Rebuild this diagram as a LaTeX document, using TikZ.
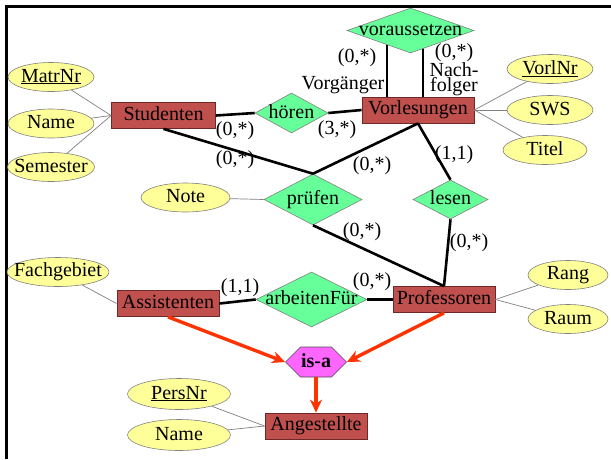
\documentclass[tikz,border=0pt]{standalone}
\usepackage{fontspec}
\setmainfont{Liberation Serif}
\usetikzlibrary{shapes.geometric,shapes.symbols,arrows.meta,backgrounds}
\definecolor{entityred}{RGB}{192,80,77}
\definecolor{entityline}{RGB}{110,40,40}
\definecolor{relgreen}{RGB}{102,255,153}
\definecolor{attryellow}{RGB}{255,255,153}
\definecolor{isapink}{RGB}{255,102,255}
\definecolor{isared}{RGB}{255,51,0}
\tikzset{
  flat/.style={inner sep=0pt,
    execute at begin node={\hbox to 0pt\bgroup\hss\vrule height 14pt depth 4pt width 0pt},
    execute at end node={\hss\egroup}},
  entity/.style={flat, rectangle, draw=entityline, line width=0.8pt, fill=entityred, minimum height=26pt},
  relation/.style={flat, diamond, draw=gray, line width=0.6pt, fill=relgreen},
  attrib/.style={flat, ellipse, draw=gray, line width=0.6pt, fill=attryellow, minimum height=29pt},
  isa/.style={flat, signal, signal to=east and west, signal pointer angle=90,
    draw=gray!60!black, line width=0.6pt, fill=isapink, minimum width=61pt, minimum height=30pt},
  card/.style={inner sep=0pt},
  conn/.style={line width=2.6pt},
  attrline/.style={gray, line width=0.7pt},
  isaline/.style={isared, line width=3.4pt, -{Stealth[length=13pt,width=12pt]}},
}
\begin{document}
\begin{tikzpicture}[x=1pt,y=-1pt,font=\fontsize{20}{24}\selectfont]
\useasboundingbox (0,0) rectangle (611,459);
\draw[line width=3pt] (6.5,459) -- (6.5,6.5) -- (611,6.5);
%
\node[entity, minimum width=104pt] (stud) at (163.5,115.5) {Studenten};
\node[entity, minimum width=112pt] (vorl) at (418,110) {Vorlesungen};
\node[entity, minimum width=102pt] (prof) at (444,299.5) {Professoren};
\node[entity, minimum width=102pt] (assi) at (168,303.5) {Assistenten};
\node[entity, minimum width=102pt] (angest) at (316,426) {Angestellte};
%
\node[relation, minimum width=127pt, minimum height=45pt] (voraus) at (410.5,30.5) {voraussetzen};
\node[relation, minimum width=73pt, minimum height=40pt] (hoeren) at (291.5,113) {hören};
\node[relation, minimum width=98pt, minimum height=51pt] (pruef) at (313,199.5) {prüfen};
\node[relation, minimum width=75pt, minimum height=39pt] (lesen) at (450.5,199.5) {lesen};
\node[relation, minimum width=111pt, minimum height=55pt] (arbeit) at (311.5,299.5) {arbeitenFür};
\node[isa] (isa) at (316,362) {\textbf{is-a}};
%
\node[attrib, minimum width=86pt] (matrnr) at (51,77) {\underline{MatrNr}};
\node[attrib, minimum width=86pt] (sname) at (51,123.5) {Name};
\node[attrib, minimum width=87pt] (semester) at (51,167) {Semester};
\node[attrib, minimum width=86pt] (vorlnr) at (550,69) {\underline{VorlNr}};
\node[attrib, minimum width=86pt] (sws) at (550,110) {SWS};
\node[attrib, minimum width=84pt] (titel) at (545,150) {Titel};
\node[attrib, minimum width=89pt] (note) at (185.5,197.5) {Note};
\node[attrib, minimum width=102pt] (fach) at (58,272) {Fachgebiet};
\node[attrib, minimum width=80pt] (rang) at (568,275) {Rang};
\node[attrib, minimum width=80pt] (raum) at (568,319) {Raum};
\node[attrib, minimum width=103pt, minimum height=31pt] (persnr) at (179,394) {\underline{PersNr}};
\node[attrib, minimum width=103pt, minimum height=31pt] (aname) at (179,435) {Name};
%
\coordinate (vorg) at ([xshift=-31pt]vorl.north);
\coordinate (nachf) at ([xshift=5pt]vorl.north);
\begin{scope}[on background layer]
\draw[conn] (vorg) -- (vorg |- voraus);
\draw[conn] (nachf) -- (nachf |- voraus);
\end{scope}
\draw[conn] (stud.east) -- (hoeren.west);
\draw[conn] (hoeren.east) -- (vorl.west);
\draw[conn] (stud.south) -- (pruef.north);
\draw[conn] (vorl.south) -- (pruef.north);
\draw[conn] (vorl.south) -- (lesen.north);
\draw[conn] (pruef.south) -- (prof.north);
\draw[conn] (lesen.south) -- (prof.north);
\draw[conn] (assi.east) -- (arbeit.west);
\draw[conn] (arbeit.east) -- (prof.west);
%
\draw[attrline] (matrnr) -- (stud.west);
\draw[attrline] (sname) -- (stud.west);
\draw[attrline] (semester) -- (stud.west);
\draw[attrline] (vorlnr) -- (vorl.east);
\draw[attrline] (sws) -- (vorl.east);
\draw[attrline] (titel) -- (vorl.east);
\draw[attrline] (note) -- (pruef.west);
\draw[attrline] (fach) -- (assi.west);
\draw[attrline] (rang) -- (prof.east);
\draw[attrline] (raum) -- (prof.east);
\draw[attrline] (persnr) -- (angest.west);
\draw[attrline] (aname) -- (angest.west);
%
\draw[isaline] (assi.south) -- (isa.west);
\draw[isaline] (prof.south) -- (isa.east);
\draw[isaline] (isa.south) -- (angest.north);
%
\node[card] (c1) at (235,131) {(0,*)};
\node[card] (c2) at (337,130) {(3,*)};
\node[card] (c3) at (235,160) {(0,*)};
\node[card] (c4) at (372,166) {(0,*)};
\node[card] (c5) at (454,155) {(1,1)};
\node[card] (c6) at (362,232) {(0,*)};
\node[card] (c7) at (469,243) {(0,*)};
\node[card] (c8) at (240,288) {(1,1)};
\node[card] (c9) at (372,282) {(0,*)};
\node[card] (c10) at (357,58) {(0,*)};
\node[card] (c11) at (454,53) {(0,*)};
\node[card] (vorgname) at (343,85) {Vorgänger};
\node[card, align=center, font=\fontsize{20}{14}\selectfont] (nachfname) at (454,79.5) {Nach-\\folger};
\end{tikzpicture}
\end{document}
